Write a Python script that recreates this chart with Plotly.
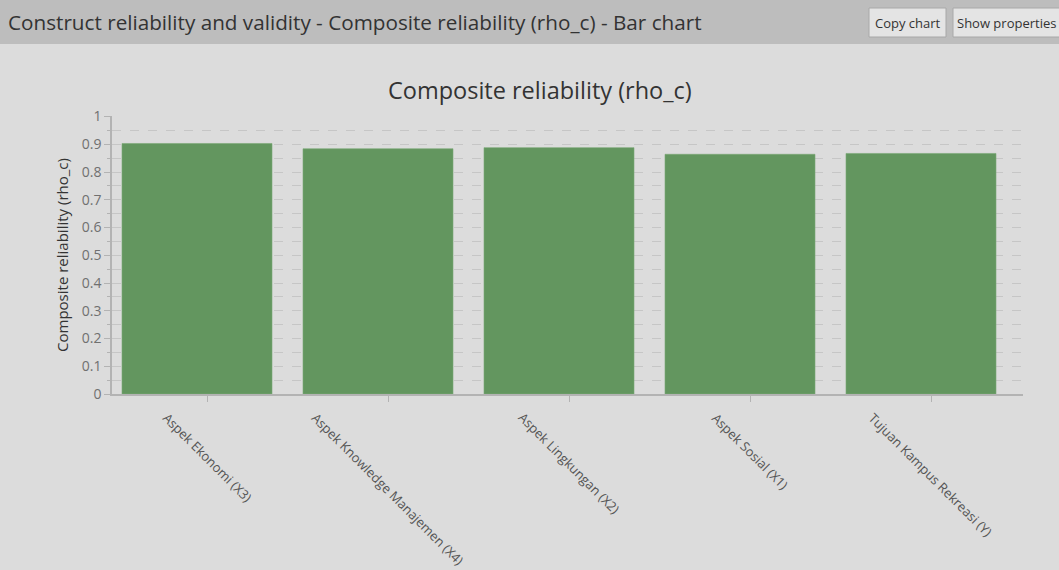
import plotly.graph_objects as go

categories = ["Aspek Ekonomi (X3)", "Aspek Knowledge Manajemen (X4)", "Aspek Lingkungan (X2)",
              "Aspek Sosial (X1)", "Tujuan Kampus Rekreasi (Y)"]
rho_c = [0.903, 0.884, 0.888, 0.864, 0.867]

W, H = 1059, 570
ml, mr, mt, mb = 112, 36, 116, 176
pw, ph = W - ml - mr, H - mt - mb
step = 181  # px per category
x0_rng = -(197 - ml) / step
x1_rng = x0_rng + pw / step
tick_off = 10 / step  # tick marks sit a little right of the bar centres


def px_x(px):
    return (px - ml) / pw


def px_y(py):
    return (H - mb - py) / ph


font = "Open Sans, Noto Sans, sans-serif"
idx = list(range(len(categories)))

fig = go.Figure(go.Bar(
    x=idx, y=rho_c, customdata=categories,
    marker=dict(color="#63965f", line=dict(color="#7aa876", width=0.6)),
    width=150 / step,
    hovertemplate="%{customdata}: %{y}<extra></extra>",
))

fig.update_layout(
    width=W, height=H,
    margin=dict(l=ml, r=mr, t=mt, b=mb),
    paper_bgcolor="#dcdcdc", plot_bgcolor="#dcdcdc",
    showlegend=False,
    font=dict(family=font, color="#555"),
)

fig.update_xaxes(
    range=[x0_rng, x1_rng], showgrid=False, zeroline=False,
    showline=True, linecolor="#b3b3b3", linewidth=1.5,
    tickvals=[i + tick_off for i in idx], ticks="outside", ticklen=6,
    tickcolor="#b3b3b3", showticklabels=False,
)
fig.update_yaxes(
    range=[0, 1.002], dtick=0.1, showline=True, linecolor="#b3b3b3", linewidth=1.5,
    ticks="outside", ticklen=6, tickcolor="#b3b3b3",
    tickfont=dict(size=14, color="#707070"),
    gridcolor="#c6c6c6", griddash="dash", zeroline=False,
    minor=dict(dtick=0.05, ticks="outside", ticklen=3, tickcolor="#b3b3b3",
               showgrid=True, gridcolor="#c6c6c6", griddash="dash"),
    title=dict(text="Composite reliability (rho_c)", font=dict(size=15, color="#333"), standoff=10),
)

# rotated category labels centred under each tick
for i, c in zip(idx, categories):
    fig.add_annotation(x=i + tick_off, y=0, yref="paper", xanchor="center", yanchor="top",
                       yshift=-12, text=c, textangle=45, showarrow=False,
                       font=dict(size=13, color="#555"))

# header bar
fig.add_shape(type="rect", xref="paper", yref="paper", x0=px_x(0), x1=px_x(W),
              y0=px_y(44), y1=px_y(0), fillcolor="#bdbdbd", line_width=0, layer="below")
fig.add_annotation(xref="paper", yref="paper", x=px_x(6), y=px_y(22), xanchor="left",
                   yanchor="middle", showarrow=False,
                   text="Construct reliability and validity - Composite reliability (rho_c) - Bar chart",
                   font=dict(size=20.7, color="#333"))
for label, bx0, bx1 in [("Copy chart", 869, 946), ("Show properties", 953, 1062)]:
    fig.add_shape(type="rect", xref="paper", yref="paper", x0=px_x(bx0), x1=px_x(bx1),
                  y0=px_y(37), y1=px_y(8), fillcolor="#e4e4e4",
                  line=dict(color="#a8a8a8", width=1))
    fig.add_annotation(xref="paper", yref="paper", x=px_x((bx0 + min(bx1, W)) / 2), y=px_y(22.5),
                       xanchor="center", yanchor="middle", showarrow=False, text=label,
                       font=dict(size=13, color="#333"))

# chart title
fig.add_annotation(xref="paper", yref="paper", x=px_x(540), y=px_y(90), xanchor="center",
                   yanchor="middle", showarrow=False, text="Composite reliability (rho_c)",
                   font=dict(size=23.5, color="#333"))

fig.write_html("out.html", config={"displayModeBar": False},
               post_script="document.body.style.margin='0';document.body.style.background='#dcdcdc';")
